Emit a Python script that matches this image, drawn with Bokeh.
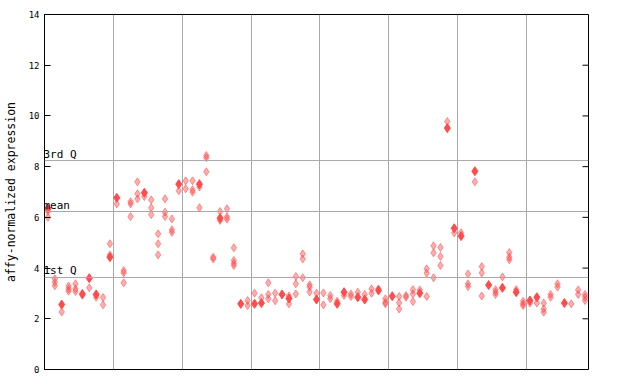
from bokeh.plotting import figure
from bokeh.models import LinearAxis, Span, Label, FixedTicker, Grid, ColumnDataSource
from bokeh.embed import file_html
from bokeh.resources import INLINE

# ---- data ----
solid_x = [0.5, 2.5, 5.5, 6.5, 7.5, 9.5, 10.5, 14.5, 19.5, 22.5, 25.5, 28.5, 30.5, 31.5,
           34.5, 35.5, 39.5, 42.5, 43.5, 45.5, 46.5, 48.5, 50.5, 54.5, 58.5, 59.5, 60.5,
           62.5, 64.5, 66.5, 68.5, 70.5, 71.5, 75.5]
solid_y = [6.35, 2.56, 2.98, 3.60, 2.96, 4.43, 6.77, 6.97, 7.31, 7.31, 5.97, 2.59, 2.59, 2.62,
           2.96, 2.80, 2.76, 2.59, 3.05, 2.85, 2.76, 3.12, 2.89, 3.01, 9.52, 5.57, 5.26,
           7.82, 3.33, 3.22, 3.05, 2.72, 2.85, 2.62]

hatch_x = [0.5, 0.5,
           1.5, 1.5, 1.5, 2.5, 3.5, 3.5, 3.5, 4.5, 4.5, 4.5, 5.5, 6.5, 7.5, 8.5, 8.5,
           9.5, 9.5, 10.5, 11.5, 11.5, 11.5, 12.5, 12.5, 12.5, 13.5, 13.5, 13.5, 14.5,
           15.5, 15.5, 15.5, 16.5, 16.5, 16.5, 17.5, 17.5, 17.5, 18.5, 18.5, 18.5, 19.5,
           20.5, 20.5, 21.5, 21.5, 21.5, 22.5, 22.5, 23.5, 23.5, 23.5, 24.5, 24.5,
           25.5, 25.5, 26.5, 26.5, 26.5, 27.5, 27.5, 27.5, 27.5, 29.5, 29.5,
           30.5, 31.5, 32.5, 32.5, 32.5, 33.5, 33.5, 35.5, 35.5, 36.5, 36.5, 36.5,
           37.5, 37.5, 37.5, 38.5, 38.5, 38.5, 39.5,
           40.5, 40.5, 41.5, 41.5, 42.5, 43.5, 44.5, 44.5, 45.5, 46.5, 47.5, 47.5, 48.5,
           49.5, 49.5, 49.5,
           51.5, 51.5, 51.5, 52.5, 52.5, 53.5, 53.5, 53.5, 54.5, 55.5, 55.5, 55.5,
           56.5, 56.5, 56.5, 57.5, 57.5, 57.5, 58.5, 59.5,
           60.5, 61.5, 61.5, 61.5, 62.5, 63.5, 63.5, 63.5, 65.5, 65.5, 65.5, 66.5,
           67.5, 67.5, 67.5, 68.5, 69.5, 69.5, 69.5,
           70.5, 71.5, 72.5, 72.5, 72.5, 73.5, 73.5, 74.5, 74.5, 76.5, 77.5, 77.5,
           78.5, 78.5, 78.5]
hatch_y = [6.24, 6.00,
           3.58, 3.44, 3.30, 2.27, 3.29, 3.18, 3.09, 3.38, 3.18, 3.08, 2.93, 3.22, 2.85, 2.84, 2.55,
           4.96, 4.52, 6.53, 3.90, 3.81, 3.42, 6.62, 6.53, 6.03, 7.40, 6.93, 6.73, 6.82,
           6.69, 6.38, 6.11, 5.35, 4.96, 4.52, 6.73, 6.20, 6.03, 5.94, 5.51, 5.41, 7.05,
           7.44, 7.13, 7.44, 7.09, 6.99, 7.20, 6.38, 8.44, 8.35, 7.80, 4.43, 4.36,
           6.23, 5.88, 6.34, 6.02, 5.93, 4.80, 4.30, 4.19, 4.10, 2.72, 2.52,
           3.01, 2.83, 3.42, 2.96, 2.79, 3.01, 2.71, 2.90, 2.59, 3.67, 3.38, 2.98,
           4.56, 4.36, 3.62, 3.34, 3.25, 3.06, 3.01,
           3.02, 2.55, 2.92, 2.79, 2.69, 2.92, 2.98, 2.88, 3.05, 2.96, 3.18, 3.01, 3.18,
           2.79, 2.65, 2.59,
           2.88, 2.63, 2.39, 2.92, 2.85, 3.15, 2.98, 2.68, 3.14, 3.97, 3.80, 2.88,
           4.88, 4.60, 3.62, 4.81, 4.46, 4.10, 9.78, 5.39,
           5.39, 3.77, 3.38, 3.27, 7.40, 4.06, 3.81, 2.90, 3.15, 3.05, 2.96, 3.65,
           4.61, 4.43, 4.33, 3.15, 2.69, 2.59, 2.52,
           2.62, 2.62, 2.62, 2.39, 2.26, 2.96, 2.85, 3.38, 3.25, 2.59, 3.14, 2.96,
           2.96, 2.85, 2.72]

group_bounds = [10, 20, 30, 40, 50, 60, 70]
stat_names = ["3rd Q", "mean", "1st Q"]
stat_values = [8.24, 6.23, 3.63]
y_ticks = [0, 2, 4, 6, 8, 10, 12, 14]
x_end = 79

RED = "#ff4b4b"
GRAY = "#a8a8a8"
MONO = "DejaVu Sans Mono"

p = figure(frame_width=544, frame_height=355, x_range=(0, x_end), y_range=(0, 14),
           output_backend="svg", toolbar_location=None,
           x_axis_location=None, y_axis_location=None,
           min_border_left=44, min_border_right=20, min_border_top=14, min_border_bottom=7)
p.grid.visible = False
p.outline_line_color = "black"
p.outline_line_width = 1
p.outline_line_alpha = 1
p.background_fill_color = "white"
p.border_fill_color = "white"

# vertical group separators
p.add_layout(Grid(dimension=0, ticker=FixedTicker(ticks=group_bounds),
                  grid_line_color=GRAY, grid_line_width=1))

# statistics lines + labels
for name, val in zip(stat_names, stat_values):
    p.add_layout(Span(location=val, dimension="width", line_color=GRAY, line_width=1))
    p.add_layout(Label(x=0, y=val, text=name, text_font=MONO, text_font_size="11px",
                       text_baseline="bottom", text_align="left", text_color="black",
                       x_offset=-1, y_offset=0))

hs = ColumnDataSource(dict(x=hatch_x, y=hatch_y))
ss = ColumnDataSource(dict(x=solid_x, y=solid_y))
p.scatter("x", "y", source=hs, marker="diamond", size=8, fill_color=RED, fill_alpha=0.45,
          line_color=RED, line_alpha=0.55, line_width=1)
p.scatter("x", "y", source=ss, marker="diamond", size=9, fill_color=RED, line_color=RED,
          line_width=1)

# inside ticks on the right border (dash markers clipped by the frame)
p.scatter(x=[x_end] * len(y_ticks), y=y_ticks, marker="dash", size=12,
          line_color="black", line_width=1)

ax = LinearAxis(ticker=FixedTicker(ticks=y_ticks), axis_label="affy-normalized expression",
                major_tick_in=6, major_tick_out=0, minor_tick_in=0, minor_tick_out=0,
                major_label_standoff=5,
                major_label_text_font=MONO, major_label_text_font_size="9px",
                major_label_text_color="black",
                axis_label_text_font=MONO, axis_label_text_font_size="11.5px",
                axis_label_text_color="black",
                axis_label_text_font_style="normal", axis_label_standoff=8,
                axis_line_color="black")
p.add_layout(ax, "left")

open("out.html", "w").write(file_html(p, INLINE))
